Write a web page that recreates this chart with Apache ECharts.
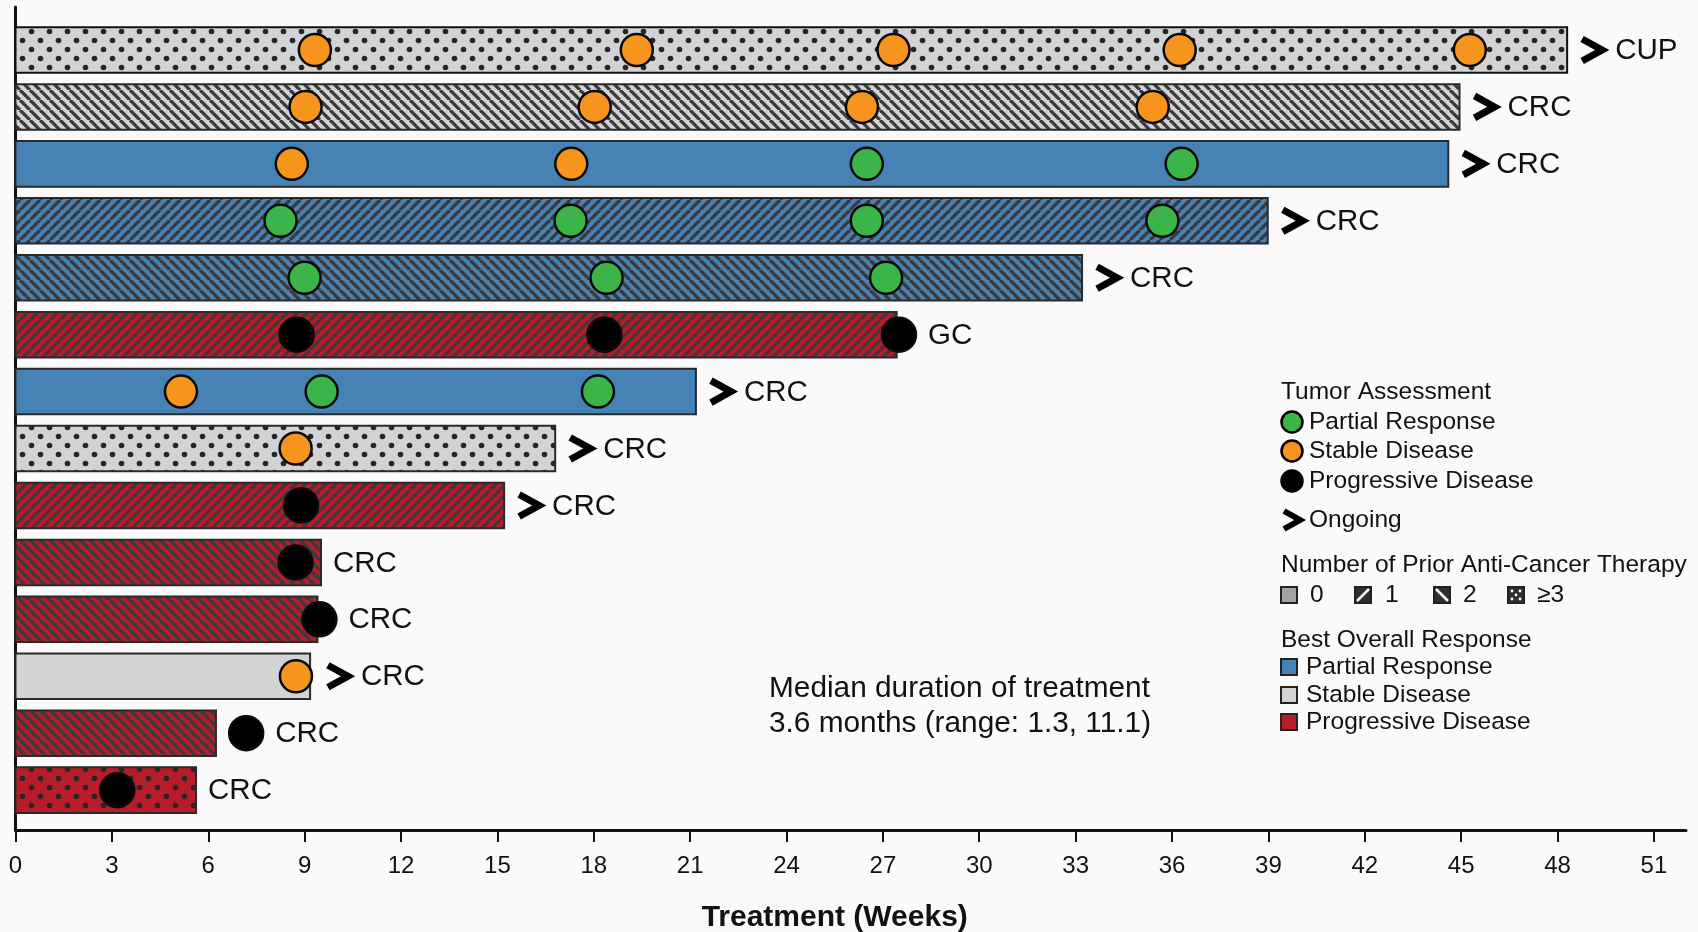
<!DOCTYPE html>
<html>
<head>
<meta charset="utf-8">
<script src="https://cdn.jsdelivr.net/npm/echarts@6/dist/echarts.min.js"></script>
<style>
    html, body { margin: 0; padding: 0; background: #fafafa; }
    #chart { width: 1698px; height: 932px; }
</style>
</head>
<body>
<div id="chart"></div>
<script>
// one entry per patient, top row first
var tumorTypes = ['CUP', 'CRC', 'CRC', 'CRC', 'CRC', 'GC', 'CRC', 'CRC', 'CRC', 'CRC', 'CRC', 'CRC', 'CRC', 'CRC'];
var treatmentWeeks = [48.3, 44.95, 44.6, 38.98, 33.2, 27.43, 21.18, 16.8, 15.21, 9.51, 9.4, 9.17, 6.24, 5.62];
var priorTherapy = ['3', '2', '0', '1', '2', '1', '0', '3', '1', '2', '2', '0', '2', '3'];   // '3' means >=3
var bestResponse = ['SD', 'SD', 'PR', 'PR', 'PR', 'PD', 'PR', 'SD', 'PD', 'PD', 'PD', 'SD', 'PD', 'PD'];
var ongoing = [true, true, true, true, true, false, true, true, true, false, false, true, false, false];

// tumor assessments : [week, patient row]
var partialResponse = [[26.5, 2], [36.3, 2], [8.25, 3], [17.28, 3], [26.5, 3], [35.7, 3],
    [9.0, 4], [18.4, 4], [27.1, 4], [9.53, 6], [18.13, 6]];
var stableDisease = [[9.32, 0], [19.34, 0], [27.33, 0], [36.24, 0], [45.27, 0],
    [9.03, 1], [18.03, 1], [26.35, 1], [35.4, 1], [8.6, 2], [17.3, 2], [5.15, 6], [8.72, 7], [8.73, 11]];
var progressiveDisease = [[8.75, 5], [18.33, 5], [27.5, 5], [8.89, 8], [8.72, 9], [9.46, 10], [7.18, 12], [3.17, 13]];

var weekTicks = [0, 3, 6, 9, 12, 15, 18, 21, 24, 27, 30, 33, 36, 39, 42, 45, 48, 51];

var responseColors = { PR: '#4682b4', SD: '#d2d3d5', PD: '#b71c2b' };
var FONT = 'Liberation Sans, Arial, sans-serif';

// fill patterns for number of prior therapies
function makeFill(base, kind) {
    if (kind == '0') return base;
    var c = document.createElement('canvas');
    var ctx = c.getContext('2d');
    if (kind == '3') {
        c.width = 18; c.height = 18;
        ctx.fillStyle = base;
        ctx.fillRect(0, 0, 18, 18);
        ctx.fillStyle = '#262626';
        [[4.5, 4.5], [13.5, 13.5]].forEach(function (p) {
            ctx.beginPath();
            ctx.arc(p[0], p[1], 2.8, 0, Math.PI * 2);
            ctx.fill();
        });
    } else {
        var p = 10;
        c.width = p; c.height = p;
        ctx.fillStyle = base;
        ctx.fillRect(0, 0, p, p);
        ctx.strokeStyle = '#3d3839';
        ctx.lineWidth = 3.3;
        for (var k = -1; k <= 1; k++) {
            ctx.beginPath();
            if (kind == '1') { ctx.moveTo(k * p, p); ctx.lineTo(k * p + p, 0); }
            else { ctx.moveTo(k * p, 0); ctx.lineTo(k * p + p, p); }
            ctx.stroke();
        }
    }
    return { image: c, repeat: 'repeat' };
}

var fills = bestResponse.map(function (r, i) {
    return makeFill(responseColors[r], priorTherapy[i]);
});

// last assessment week of each row (marks may stick out past the bar)
var lastMark = treatmentWeeks.map(function () { return 0; });
partialResponse.concat(stableDisease, progressiveDisease).forEach(function (d) {
    if (d[0] > lastMark[d[1]]) lastMark[d[1]] = d[0];
});

function renderBar(params, api) {
    var i = params.dataIndex;
    var row = api.value(1);
    var start = api.coord([0, row]);
    var stop = api.coord([api.value(0), row]);
    var h = api.size([0, 1])[1] * 0.8;
    var y = start[1];
    var children = [{
        type: 'rect',
        shape: { x: start[0], y: y - h / 2, width: stop[0] - start[0], height: h },
        style: { fill: fills[i], stroke: i == 0 ? '#111' : '#2a2a2a', lineWidth: 2 }
    }];
    var x = Math.max(stop[0], api.coord([lastMark[i], row])[0] + 17);
    if (ongoing[i]) {
        children.push({
            type: 'polyline',
            shape: { points: [[x + 15, y - 11], [x + 35, y], [x + 15, y + 11]] },
            style: { stroke: '#000', lineWidth: 7, fill: null, lineJoin: 'miter' }
        });
        x += 48;
    } else {
        x += 12;
    }
    children.push({
        type: 'text',
        style: { x: x, y: y + 1, text: tumorTypes[i], fill: '#111', font: '29.5px ' + FONT, verticalAlign: 'middle' }
    });
    return { type: 'group', children: children };
}

function scatterSeries(name, data, color, size) {
    return {
        name: name,
        type: 'scatter',
        data: data,
        symbol: 'circle',
        symbolSize: size,
        z: 5,
        itemStyle: { color: color, borderColor: '#0a0a0a', borderWidth: 2.5, opacity: 1 }
    };
}

// legend pieces
var LX = 1281;
function legendText(x, y, text) {
    return { type: 'text', x: x, y: y + 3, style: { text: text, font: '24.5px ' + FONT, fill: '#111', verticalAlign: 'middle' } };
}
function legendCircle(y, color) {
    return { type: 'circle', shape: { cx: LX + 11, cy: y + 3, r: 10.5 }, style: { fill: color, stroke: '#000', lineWidth: 2.5 } };
}
function legendSquare(x, y, fill) {
    return { type: 'rect', shape: { x: x, y: y - 5, width: 16, height: 16 }, style: { fill: fill, stroke: '#222', lineWidth: 2 } };
}
function hatchIcon(x, y, kind) {
    var g = [legendSquare(x, y, '#2f2f2f')];
    y += 3;
    if (kind == '1') g.push({ type: 'line', shape: { x1: x + 2, y1: y + 6, x2: x + 14, y2: y - 6 }, style: { stroke: '#fff', lineWidth: 2.5 } });
    if (kind == '2') g.push({ type: 'line', shape: { x1: x + 2, y1: y - 6, x2: x + 14, y2: y + 6 }, style: { stroke: '#fff', lineWidth: 2.5 } });
    if (kind == '3') {
        [[x + 4, y - 4], [x + 12, y - 4], [x + 8, y], [x + 4, y + 4], [x + 12, y + 4]].forEach(function (p) {
            g.push({ type: 'circle', shape: { cx: p[0], cy: p[1], r: 1.4 }, style: { fill: '#fff' } });
        });
    }
    return g;
}

var legendItems = [
    legendText(LX, 389, 'Tumor Assessment'),
    legendCircle(419, '#3bb54a'), legendText(1309, 419, 'Partial Response'),
    legendCircle(448, '#f7941e'), legendText(1309, 448, 'Stable Disease'),
    legendCircle(478, '#000'), legendText(1309, 478, 'Progressive Disease'),
    { type: 'polyline', shape: { points: [[LX + 3, 511], [LX + 19, 520], [LX + 3, 529]] }, style: { stroke: '#000', lineWidth: 6, fill: null } },
    legendText(1309, 517, 'Ongoing'),
    legendText(LX, 562, 'Number of Prior Anti-Cancer Therapy'),
    legendSquare(LX, 592, '#a3a3a5'), legendText(1310, 592, '0'),
    legendText(1385, 592, '1'), legendText(1463, 592, '2'), legendText(1537, 592, '≥3'),
    legendText(LX, 637, 'Best Overall Response'),
    legendSquare(LX, 664, responseColors.PR), legendText(1306, 664, 'Partial Response'),
    legendSquare(LX, 692, responseColors.SD), legendText(1306, 692, 'Stable Disease'),
    legendSquare(LX, 719, responseColors.PD), legendText(1306, 719, 'Progressive Disease'),
    { type: 'text', x: 769, y: 689, style: { text: 'Median duration of treatment', font: '29.8px ' + FONT, fill: '#111', verticalAlign: 'middle' } },
    { type: 'text', x: 769, y: 724, style: { text: '3.6 months (range: 1.3, 11.1)', font: '29.8px ' + FONT, fill: '#111', verticalAlign: 'middle' } }
].concat(hatchIcon(1355, 592, '1'), hatchIcon(1434, 592, '2'), hatchIcon(1508, 592, '3'));

var chart = echarts.init(document.getElementById('chart'));
chart.setOption({
    backgroundColor: '#fafafa',
    animation: false,
    grid: { left: 15.5, right: 12, top: 7, bottom: 102, outerBoundsMode: 'none' },
    xAxis: {
        type: 'value',
        min: 0,
        max: 52,
        splitLine: { show: false },
        axisLine: { show: true, onZero: false, lineStyle: { color: '#111', width: 3 } },
        axisTick: { show: true, customValues: weekTicks, length: 12, lineStyle: { color: '#111', width: 2 } },
        axisLabel: { customValues: weekTicks, margin: 24, fontSize: 24, fontFamily: FONT, color: '#111' },
        name: 'Treatment (Weeks)',
        nameLocation: 'middle',
        nameGap: 73,
        nameTextStyle: { fontSize: 30, fontWeight: 'bold', fontFamily: FONT, color: '#111', padding: [0, 32, 0, 0] }
    },
    yAxis: {
        type: 'value',
        inverse: true,
        min: -0.755,
        max: 13.7,
        splitLine: { show: false },
        axisLine: { show: true, onZero: false, lineStyle: { color: '#111', width: 3 } },
        axisTick: { show: false },
        axisLabel: { show: false }
    },
    series: [
        {
            type: 'custom',
            renderItem: renderBar,
            data: treatmentWeeks.map(function (w, i) { return [w, i]; }),
            z: 2
        },
        scatterSeries('Partial Response', partialResponse, '#3bb54a', 32),
        scatterSeries('Stable Disease', stableDisease, '#f7941e', 32),
        scatterSeries('Progressive Disease', progressiveDisease, '#000', 34)
    ],
    graphic: legendItems
});
</script>
</body>
</html>
